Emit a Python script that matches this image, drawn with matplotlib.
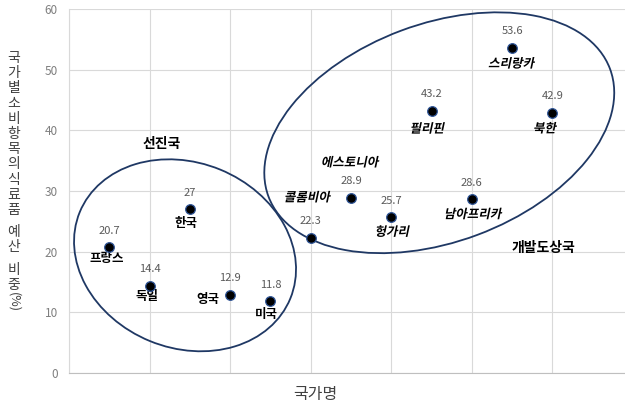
import matplotlib
matplotlib.use("Agg")
import matplotlib.pyplot as plt
from matplotlib.patches import Ellipse, PathPatch
from matplotlib.textpath import TextPath
from matplotlib.font_manager import FontProperties
from matplotlib.transforms import Affine2D, IdentityTransform

plt.rcParams['font.family'] = ['Noto Sans CJK KR', 'DejaVu Sans']

# data
countries = ['프랑스', '독일', '한국', '영국', '미국', '에스토니아',
             '콜롬비아', '헝가리', '필리핀', '남아프리카', '스리랑카', '북한']
shares = [20.7, 14.4, 27, 12.9, 11.8, 22.3, 28.9, 25.7, 43.2, 28.6, 53.6, 42.9]
developed = [True, True, True, True, True,
             False, False, False, False, False, False, False]
y_ticks = [0, 10, 20, 30, 40, 50, 60]

# name label offsets (pixels) relative to each point
name_offsets = [(-3, -11), (-3, -11), (-4, -14), (-22, -5), (-4, -13), (40, 76),
                (-43, 1), (1, -14), (-4, -17), (2, -14), (0, -15), (-7, -15)]

fig = plt.figure(figsize=(6.25, 4.08), dpi=100)
ax = fig.add_axes([69 / 625, 35 / 408, 556 / 625, 364 / 408])

xs = list(range(1, len(countries) + 1))
ax.set_xlim(0, 13.8)
ax.set_ylim(0, 60)
ax.set_xticks(range(0, 14, 2))
ax.set_xticklabels([])
ax.set_yticks(y_ticks)
ax.tick_params(length=0, colors='#7f7f7f', labelsize=8.5, pad=8)
ax.grid(color='#d9d9d9', lw=0.8)
ax.set_axisbelow(True)
for s in ['top', 'right']:
    ax.spines[s].set_visible(False)
ax.spines['left'].set_color('#d9d9d9')
ax.spines['bottom'].set_color('#bfbfbf')

ax.scatter(xs, shares, s=48, c='black', edgecolors='#2f5597', linewidths=0.9, zorder=4)


def slanted(x, y, text, dx, dy, size=9):
    # no italic CJK font, so shear the glyph outlines
    fp = FontProperties(family='Noto Sans CJK KR', weight='bold')
    path = TextPath((0, 0), text, size=size, prop=fp)
    ext = path.get_extents()
    px, py = ax.transData.transform((x, y))
    k = fig.dpi / 72
    tr = (Affine2D().translate(-(ext.x0 + ext.x1) / 2, -(ext.y0 + ext.y1) / 2)
          .skew_deg(12, 0).scale(k).translate(px + dx, py + dy))
    ax.add_patch(PathPatch(path, transform=tr, fc='black', ec='none', zorder=5, clip_on=False))


for x, v, name, dev, (dx, dy) in zip(xs, shares, countries, developed, name_offsets):
    ax.annotate(f'{v:g}', (x, v), xytext=(0, 16.5), textcoords='offset pixels',
                ha='center', va='center', fontsize=8, color='#595959')
    if dev:
        ax.annotate(name, (x, v), xytext=(dx, dy), textcoords='offset pixels',
                    ha='center', va='center', fontsize=9, fontweight='bold', color='black')
    else:
        slanted(x, v, name, dx, dy)

# group ellipses (drawn in pixels around a data-space centre)
for (cx, cy), w, h, ang in [((2.88, 19.4), 227.6, 185.3, -22.3),
                            ((9.19, 39.6), 364.6, 218.0, 20.5)]:
    px, py = ax.transData.transform((cx, cy))
    ax.add_patch(Ellipse((px, py), w, h, angle=ang, transform=IdentityTransform(),
                         fill=False, ec='#1f3864', lw=1.3, zorder=3, clip_on=False))

ax.text(2.3, 37.7, '선진국', ha='center', va='center', fontsize=10, fontweight='bold')
ax.text(11.78, 20.6, '개발도상국', ha='center', va='center', fontsize=10, fontweight='bold')

# x label
fig.text(315 / 625, 1 - 395 / 408, '국가명', ha='center', va='center',
         fontsize=11.5, color='#404040')

# stacked y label
ylab = '국가별소비항목의식료품 예산 비중'
ypos = 58
for ch in ylab:
    if ch == ' ':
        ypos += 7
        continue
    fig.text(14 / 625, 1 - ypos / 408, ch, ha='center', va='center',
             fontsize=10, color='#404040')
    ypos += 15.2
fig.text(14 / 625, 1 - (ypos + 2) / 408, '(%)', ha='center', va='center',
         fontsize=9, color='#404040', rotation=-90)

fig.savefig('out.png', dpi=100)
